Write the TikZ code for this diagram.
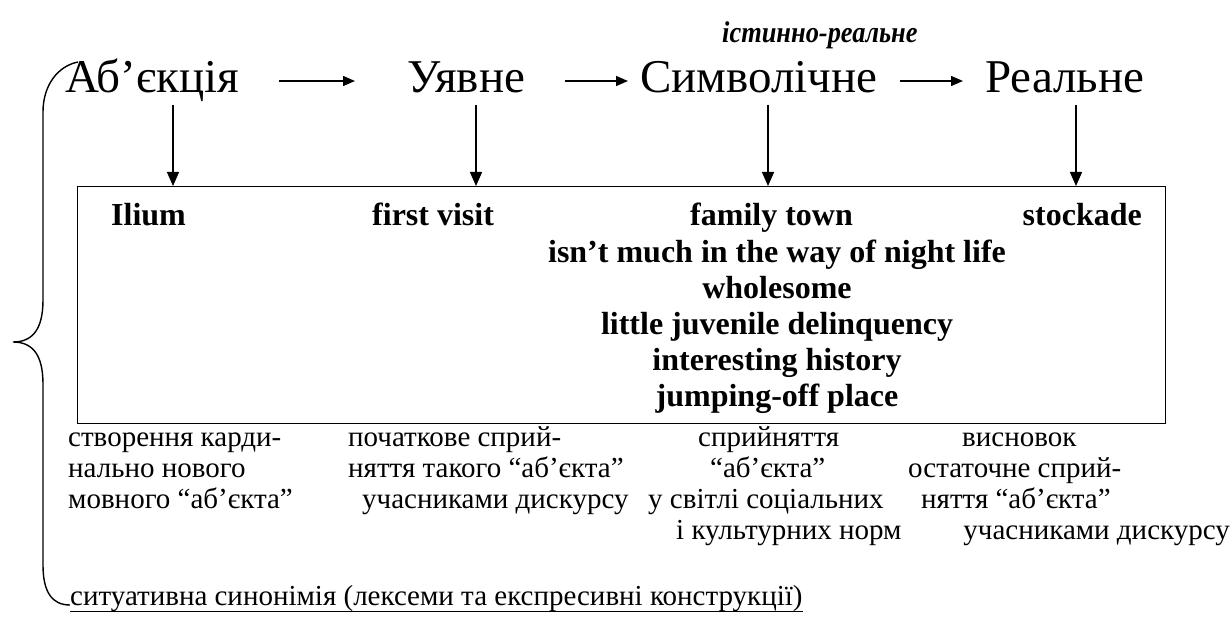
\documentclass[tikz,border=0pt]{standalone}
\usepackage{fontspec}
\setmainfont{Liberation Serif}
\newfontfamily\istfont{Liberation Serif}[FakeStretch=0.88]
\usetikzlibrary{arrows.meta}
\begin{document}
\begin{tikzpicture}[x=1pt,y=-1pt,
  big/.style={font=\fontsize{47}{52}\selectfont, anchor=base west, inner sep=0pt},
  bld/.style={font=\fontsize{32}{36}\selectfont\bfseries, anchor=base, inner sep=0pt},
  sm/.style={font=\fontsize{29}{32}\selectfont, anchor=base west, inner sep=0pt},
  arr/.style={line width=1.4pt, -{Triangle[length=12pt,width=10pt]}},
  varr/.style={line width=1.4pt, -{Triangle[length=14pt,width=12pt]}},
  frame/.style={draw, line width=1.4pt},
  ]
\useasboundingbox (0,0) rectangle (1232,623);
% top row
\node[font=\fontsize{30}{34}\istfont\bfseries\itshape, anchor=base west, inner sep=0pt] (ist) at (722,43) {істинно-реальне};
\node[big] (a) at (65,93) {Аб’єкція};
\node[big] (u) at (407,93) {Уявне};
\node[big] (s) at (640,93) {Символічне};
\node[big] (r) at (985,93) {Реальне};
\draw[arr, shorten <=40pt, shorten >=52pt] (a.east |- 0,81) -- (u.west |- 0,81);
\draw[arr, shorten <=40pt, shorten >=12pt] (u.east |- 0,81) -- (s.west |- 0,81);
\draw[arr, shorten <=22pt, shorten >=22pt] (s.east |- 0,81) -- (r.west |- 0,81);
% box
\node[frame, anchor=north west, minimum width=1088pt, minimum height=237pt, inner sep=0pt] (box) at (77,186) {};
\coordinate (v1) at (173,105);
\coordinate (v2) at (476,105);
\coordinate (v3) at (768,105);
\coordinate (v4) at (1076,105);
\foreach \v in {v1,v2,v3,v4} \draw[varr] (\v) -- (\v |- box.north);
% box contents
\node[bld, anchor=base west] (il) at (111,225) {Ilium};
\node[bld, anchor=base west] (fv) at (372,225) {first visit};
\node[bld, anchor=base west] (ft) at (690,225) {family town};
\node[bld, anchor=base east] (st) at (1142,225) {stockade};
\node[bld] (l1) at (777,262) {isn’t much in the way of night life};
\node[bld] (l2) at (777,298) {wholesome};
\node[bld] (l3) at (777,334) {little juvenile delinquency};
\node[bld] (l4) at (777,370) {interesting history};
\node[bld] (l5) at (777,406) {jumping-off place};
% captions
\node[sm] (c11) at (68,446) {створення карди-};
\node[sm] (c12) at (68,477) {нально нового};
\node[sm] (c13) at (68,508) {мовного “аб’єкта”};
\node[sm] (c21) at (348,446) {початкове сприй-};
\node[sm] (c22) at (348,477) {няття такого “аб’єкта”};
\node[sm] (c23) at (362,508) {учасниками дискурсу};
\node[sm] (c31) at (698,446) {сприйняття};
\node[sm] (c32) at (710,477) {“аб’єкта”};
\node[sm] (c33) at (648,508) {у світлі соціальних};
\node[sm] (c34) at (676,539) {і культурних норм};
\node[sm] (c41) at (962,446) {висновок};
\node[sm] (c42) at (908,477) {остаточне сприй-};
\node[sm] (c43) at (921,508) {няття “аб’єкта”};
\node[sm, anchor=base east] (c44) at (1230,539) {учасниками дискурсу};
% bottom
\node[sm] (sit) at (70,605) {ситуативна синонімія (лексеми та експресивні конструкції)};
\draw[line width=1pt] ([yshift=-6pt]sit.base west) -- ([yshift=-6pt]sit.base east);
% brace
\draw[line width=1.4pt] (78,62) .. controls (58,66) and (43,85) .. (43,112)
  -- (43,300) .. controls (43,330) and (32,342) .. (13,342)
  .. controls (32,342) and (43,354) .. (43,384)
  -- (43,565) .. controls (43,592) and (52,605) .. (sit.base west);
\end{tikzpicture}
\end{document}
